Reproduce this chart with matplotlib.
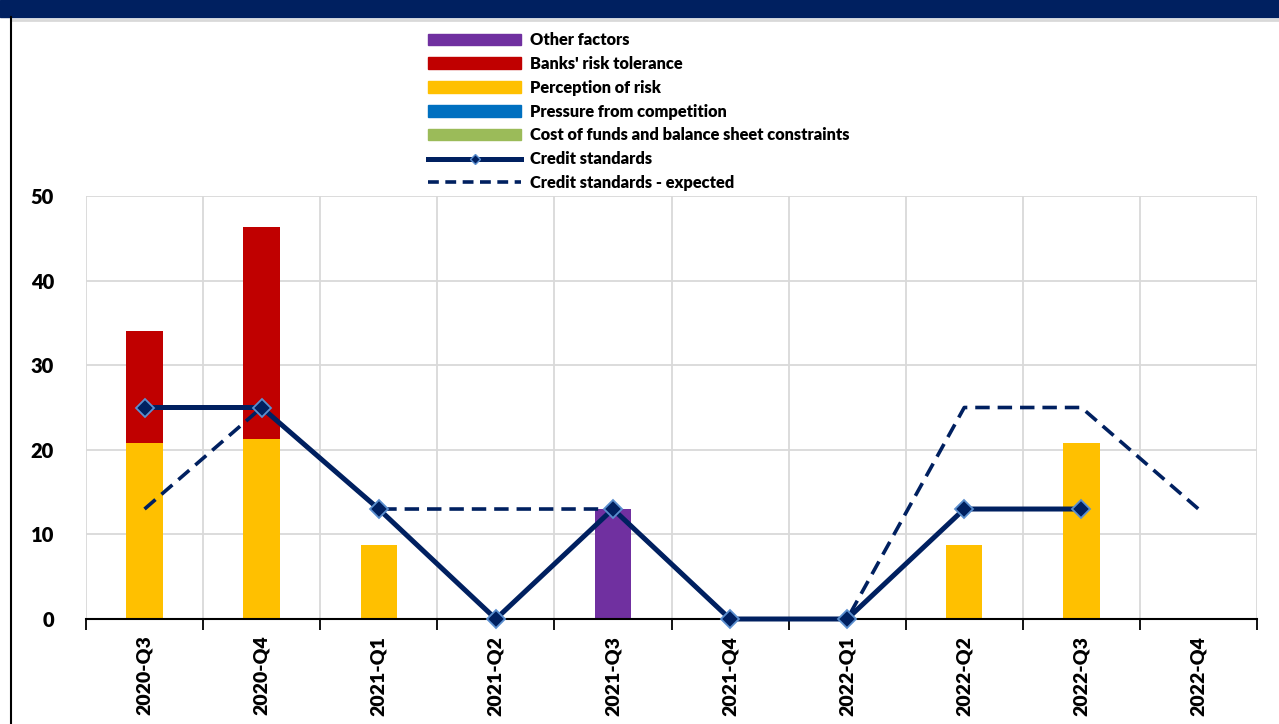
import matplotlib
matplotlib.use("Agg")
import matplotlib.pyplot as plt
import numpy as np
from matplotlib.lines import Line2D
from matplotlib.patches import Patch, Rectangle

categories = ["2020-Q3", "2020-Q4", "2021-Q1", "2021-Q2", "2021-Q3",
              "2021-Q4", "2022-Q1", "2022-Q2", "2022-Q3", "2022-Q4"]
cost_of_funds = [0, 0, 0, 0, 0, 0, 0, 0, 0, 0]
competition = [0, 0, 0, 0, 0, 0, 0, 0, 0, 0]
perception = [20.8, 21.3, 8.7, 0, 0, 0, 0, 8.7, 20.8, 0]
risk_tolerance = [13.2, 25.0, 0, 0, 0, 0, 0, 0, 0, 0]
other = [0, 0, 0, 0, 13.0, 0, 0, 0, 0, 0]
credit_standards = [25, 25, 13, 0, 13, 0, 0, 13, 13, np.nan]
credit_expected = [13, 25, 13, 13, 13, 0, 0, 25, 25, 13]
yticks = [0, 10, 20, 30, 40, 50]

NAVY = "#002060"
plt.rcParams['font.family'] = ['Lato', 'DejaVu Sans']
FW = "heavy"

fig = plt.figure(figsize=(12.79, 7.24), dpi=100)
# header band
fig.patches.append(Rectangle((0, 1 - 17/724), 1, 17/724, transform=fig.transFigure,
                             color=NAVY, zorder=0))
fig.add_artist(Line2D([12/1279, 1], [1 - 20/724, 1 - 20/724], color="#d9d9d9", lw=2,
                      transform=fig.transFigure))
fig.add_artist(Line2D([11/1279, 11/1279], [0, 1 - 17/724], color="black", lw=1.5,
                      transform=fig.transFigure))

ax = fig.add_axes([86/1279, 1 - 619/724, (1257 - 86)/1279, (619 - 196)/724])
x = np.arange(len(categories))
w = 0.31
bottom = np.zeros(len(categories))
series = [(cost_of_funds, "#9BBB59", "Cost of funds and balance sheet constraints"),
          (competition, "#0070C0", "Pressure from competition"),
          (perception, "#FFC000", "Perception of risk"),
          (risk_tolerance, "#C00000", "Banks' risk tolerance"),
          (other, "#7030A0", "Other factors")]
for vals, col, lab in series:
    v = np.array(vals, dtype=float)
    ax.bar(x, v, w, bottom=bottom, color=col, zorder=2)
    bottom += v

ax.plot(x, credit_expected, color=NAVY, lw=2.6, ls=(0, (4, 2.2)), zorder=3)
ax.plot(x, credit_standards, color=NAVY, lw=3.6, marker="D", markersize=9,
        markerfacecolor=NAVY, markeredgecolor="#5B8FCF", markeredgewidth=1.3,
        zorder=6, clip_on=False)

ax.set_xlim(-0.5, len(categories) - 0.5)
ax.set_ylim(0, 50)
ax.set_yticks(yticks)
ax.set_yticklabels([str(t) for t in yticks], fontsize=14.5, fontweight=FW)
ax.set_xticks(np.arange(-0.5, len(categories)))
ax.set_xticklabels([])
ax.set_xticks(x, minor=True)
ax.set_xticklabels(categories, minor=True, rotation=90, fontsize=14, fontweight=FW)
ax.tick_params(axis="x", which="major", length=8, width=1.3, color="black", direction="out")
ax.tick_params(axis="x", which="minor", length=0, pad=12)
ax.tick_params(axis="y", length=0, pad=23)
ax.grid(True, which="major", color="#d9d9d9", lw=1.3, zorder=0)
ax.set_axisbelow(True)
for s in ["top", "right", "left"]:
    ax.spines[s].set_visible(False)
ax.spines["bottom"].set_color("black")
ax.spines["bottom"].set_linewidth(1.5)
ax.spines["bottom"].set_zorder(5)

handles = [Patch(color="#7030A0"), Patch(color="#C00000"), Patch(color="#FFC000"),
           Patch(color="#0070C0"), Patch(color="#9BBB59"),
           Line2D([], [], color=NAVY, lw=3.6, marker="D", markersize=5,
                  markerfacecolor=NAVY, markeredgecolor="#5B8FCF"),
           Line2D([], [], color=NAVY, lw=2.6, ls=(0, (3, 1.8)))]
labels = ["Other factors", "Banks' risk tolerance", "Perception of risk",
          "Pressure from competition", "Cost of funds and balance sheet constraints",
          "Credit standards", "Credit standards - expected"]
leg = fig.legend(handles, labels, loc="upper left", bbox_to_anchor=(428/1279, 1 - 32/724),
                 frameon=False, prop={"family": "Lato", "weight": FW, "size": 11.8},
                 handlelength=5.7, handletextpad=0.5, labelspacing=0.48, borderpad=0,
                 borderaxespad=0)

fig.savefig("out.png", dpi=100)
